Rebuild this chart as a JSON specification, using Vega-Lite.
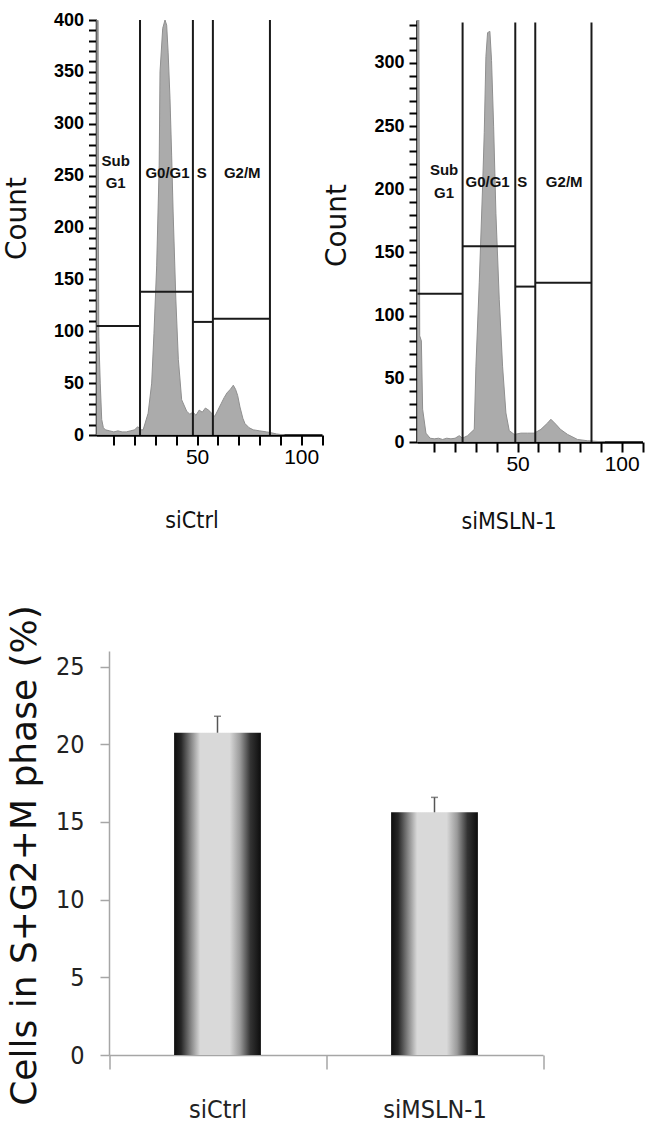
{
  "$schema": "https://vega.github.io/schema/vega-lite/v6.json",
  "autosize": {"type": "none"},
  "padding": {"left": 96.5, "top": 20, "right": 552.5, "bottom": 1113},
  "background": "white",
  "config": {"view": {"stroke": null}, "axis": {"grid": false, "labelOverlap": false, "labelFlush": false}},
  "datasets": {
    "histL": [
      {"x": 1.7, "y": 400}, {"x": 2.3, "y": 400}, {"x": 2.8, "y": 95}, {"x": 3.5, "y": 50}, {"x": 4.2, "y": 15}, {"x": 5, "y": 7}, {"x": 6, "y": 5}, {"x": 8, "y": 4}, {"x": 10, "y": 3}, {"x": 12, "y": 4}, {"x": 14, "y": 3}, {"x": 16, "y": 3}, {"x": 18, "y": 4}, {"x": 20, "y": 5}, {"x": 21.5, "y": 8}, {"x": 23, "y": 5},
      {"x": 24.1, "y": 5}, {"x": 26.5, "y": 21}, {"x": 28.2, "y": 50}, {"x": 29.3, "y": 98}, {"x": 30.6, "y": 163}, {"x": 31.8, "y": 260}, {"x": 32.2, "y": 350}, {"x": 33.5, "y": 392}, {"x": 34.6, "y": 400}, {"x": 35.4, "y": 395}, {"x": 36.1, "y": 369}, {"x": 37.0, "y": 324}, {"x": 37.8, "y": 269}, {"x": 38.5, "y": 215}, {"x": 39.8, "y": 131}, {"x": 41.0, "y": 73}, {"x": 42.6, "y": 34},
      {"x": 45, "y": 23}, {"x": 46.5, "y": 20}, {"x": 48, "y": 22}, {"x": 49.5, "y": 19}, {"x": 51, "y": 24}, {"x": 52.5, "y": 22}, {"x": 54, "y": 26}, {"x": 55.5, "y": 24}, {"x": 57, "y": 21}, {"x": 58.5, "y": 18}, {"x": 60, "y": 24}, {"x": 61.5, "y": 30}, {"x": 63, "y": 36}, {"x": 64.5, "y": 41}, {"x": 66, "y": 44}, {"x": 67.4, "y": 48}, {"x": 68.5, "y": 44}, {"x": 69.5, "y": 38}, {"x": 70.6, "y": 27}, {"x": 72, "y": 16}, {"x": 73, "y": 11}, {"x": 75, "y": 7}, {"x": 77, "y": 5}, {"x": 80, "y": 4}, {"x": 83.4, "y": 3}, {"x": 86, "y": 2}, {"x": 88.2, "y": 1}, {"x": 92, "y": 0}
    ],
    "histR": [
      {"x": 1.9, "y": 334}, {"x": 2.6, "y": 334}, {"x": 3.0, "y": 84}, {"x": 3.8, "y": 80}, {"x": 4.4, "y": 26}, {"x": 6, "y": 7}, {"x": 8, "y": 3}, {"x": 10, "y": 2.5}, {"x": 12, "y": 3}, {"x": 14, "y": 2}, {"x": 16, "y": 3}, {"x": 18, "y": 2.5}, {"x": 20, "y": 3}, {"x": 22, "y": 5}, {"x": 23.5, "y": 3},
      {"x": 26.0, "y": 5}, {"x": 29.2, "y": 10}, {"x": 30.0, "y": 60}, {"x": 31.6, "y": 126}, {"x": 33.2, "y": 202}, {"x": 34.0, "y": 245}, {"x": 34.8, "y": 305}, {"x": 35.6, "y": 324}, {"x": 36.7, "y": 325}, {"x": 37.5, "y": 302}, {"x": 38.5, "y": 250}, {"x": 39.6, "y": 181}, {"x": 41.2, "y": 113}, {"x": 42.8, "y": 60}, {"x": 44.4, "y": 23}, {"x": 46.0, "y": 9}, {"x": 48.4, "y": 6}, {"x": 51.6, "y": 7}, {"x": 54.8, "y": 7}, {"x": 58.0, "y": 7}, {"x": 61.2, "y": 10}, {"x": 64.4, "y": 15}, {"x": 66.0, "y": 18}, {"x": 68.4, "y": 14}, {"x": 70.6, "y": 10}, {"x": 74.0, "y": 6}, {"x": 78.8, "y": 2}, {"x": 83.6, "y": 1}, {"x": 92, "y": 0}
    ],
    "vgL": [{"x": 22.6, "y": 0, "y2": 400}, {"x": 48, "y": 0, "y2": 400}, {"x": 57.6, "y": 0, "y2": 400}, {"x": 85, "y": 0, "y2": 400}],
    "hgL": [{"x": 1.7, "x2": 22.6, "y": 105}, {"x": 22.6, "x2": 48, "y": 138}, {"x": 48, "x2": 57.6, "y": 109}, {"x": 57.6, "x2": 85, "y": 112}],
    "txtL": [{"x": 10.9, "y": 264, "label": "Sub"}, {"x": 10.9, "y": 243, "label": "G1"}, {"x": 35.8, "y": 253, "label": "G0/G1"}, {"x": 52.2, "y": 253, "label": "S"}, {"x": 71.7, "y": 253, "label": "G2/M"}],
    "vgR": [{"x": 23.6, "y": 0, "y2": 332}, {"x": 48.9, "y": 0, "y2": 332}, {"x": 58.5, "y": 0, "y2": 332}, {"x": 85.5, "y": 0, "y2": 332}],
    "hgR": [{"x": 1.9, "x2": 23.6, "y": 117.4}, {"x": 23.6, "x2": 48.9, "y": 155}, {"x": 48.9, "x2": 58.5, "y": 123}, {"x": 58.5, "x2": 85.5, "y": 126}],
    "txtR": [{"x": 14.7, "y": 215.6, "label": "Sub"}, {"x": 14.7, "y": 197, "label": "G1"}, {"x": 35.6, "y": 206, "label": "G0/G1"}, {"x": 52.2, "y": 206, "label": "S"}, {"x": 72.4, "y": 206, "label": "G2/M"}],
    "bars": [{"group": "siCtrl", "value": 20.74, "upper": 21.8}, {"group": "siMSLN-1", "value": 15.62, "upper": 16.58}]
  },
  "bounds": "flush",
  "spacing": 631,
  "vconcat": [
    {
      "bounds": "flush",
      "spacing": 94.5,
      "resolve": {"scale": {"x": "independent", "y": "independent"}, "axis": {"x": "independent", "y": "independent"}},
      "hconcat": [
        {
          "width": 225.5,
          "height": 415,
          "encoding": {
            "x": {"field": "x", "type": "quantitative", "scale": {"domain": [1.7, 110]},
              "axis": {"values": [10, 20, 30, 40, 50, 60, 70, 80, 90, 100, 110], "labelExpr": "datum.value == 50 || datum.value == 100 ? datum.label : ''", "labelFlush": false, "labelOverlap": false, "tickSize": 10, "tickWidth": 2, "tickColor": "black", "domainColor": "black", "domainWidth": 2.5, "labelFont": "Liberation Sans, Arial, sans-serif", "labelFontSize": 21, "labelColor": "black", "labelPadding": 1,
                "title": "siCtrl", "titleFont": "DejaVu Sans Condensed, Liberation Sans, sans-serif", "titleFontSize": 23, "titleFontWeight": "normal", "titleColor": "#111", "titleX": 95, "titleY": 85, "titleBaseline": "middle", "titleAlign": "center"}},
            "y": {"field": "y", "type": "quantitative", "scale": {"domain": [0, 400]},
              "axis": {"values": [0, 10, 20, 30, 40, 50, 60, 70, 80, 90, 100, 110, 120, 130, 140, 150, 160, 170, 180, 190, 200, 210, 220, 230, 240, 250, 260, 270, 280, 290, 300, 310, 320, 330, 340, 350, 360, 370, 380, 390, 400], "labelExpr": "datum.value % 50 == 0 ? datum.label : ''", "labelOverlap": false, "labelFlush": false, "tickSize": 8, "tickWidth": 2, "tickColor": "black", "domainColor": "black", "domainWidth": 2.5, "labelFont": "Liberation Sans, Arial, sans-serif", "labelFontWeight": "bold", "labelFontSize": 18, "labelColor": "black", "labelPadding": 5,
                "title": "Count", "titleFont": "DejaVu Sans", "titleFontSize": 28, "titleFontWeight": "normal", "titleColor": "#111", "titleX": -79.5, "titleY": 198, "titleBaseline": "middle", "titleAlign": "center", "titleAngle": -90}}
          },
          "layer": [
            {
              "data": {"name": "histL"},
              "mark": {"type": "area", "color": "#ababab", "stroke": "#8f8f8f", "strokeWidth": 1, "clip": true}
            },
            {
              "data": {"name": "vgL"},
              "mark": {"type": "rule", "color": "#1a1a1a", "strokeWidth": 2},
              "encoding": {"y2": {"field": "y2"}}
            },
            {
              "data": {"name": "hgL"},
              "mark": {"type": "rule", "color": "#1a1a1a", "strokeWidth": 2},
              "encoding": {"x2": {"field": "x2"}}
            },
            {
              "data": {"name": "txtL"},
              "mark": {"type": "text", "font": "Liberation Sans, Arial, sans-serif", "fontWeight": "bold", "fontSize": 15, "color": "#111", "baseline": "middle", "align": "center"},
              "encoding": {"text": {"field": "label"}}
            }
          ]
        },
        {
          "width": 225.5,
          "height": 422,
          "encoding": {
            "x": {"field": "x", "type": "quantitative", "scale": {"domain": [1.7, 110]},
              "axis": {"values": [10, 20, 30, 40, 50, 60, 70, 80, 90, 100, 110], "labelExpr": "datum.value == 50 || datum.value == 100 ? datum.label : ''", "labelFlush": false, "labelOverlap": false, "tickSize": 10, "tickWidth": 2, "tickColor": "black", "domainColor": "black", "domainWidth": 2.5, "labelFont": "Liberation Sans, Arial, sans-serif", "labelFontSize": 21, "labelColor": "black", "labelPadding": 1,
                "title": "siMSLN-1", "titleFont": "DejaVu Sans Condensed, Liberation Sans, sans-serif", "titleFontSize": 23, "titleFontWeight": "normal", "titleColor": "#111", "titleX": 91.5, "titleY": 79, "titleBaseline": "middle", "titleAlign": "center"}},
            "y": {"field": "y", "type": "quantitative", "scale": {"domain": [0, 334]},
              "axis": {"values": [0, 10, 20, 30, 40, 50, 60, 70, 80, 90, 100, 110, 120, 130, 140, 150, 160, 170, 180, 190, 200, 210, 220, 230, 240, 250, 260, 270, 280, 290, 300, 310, 320, 330], "labelExpr": "datum.value % 50 == 0 ? datum.label : ''", "labelOverlap": false, "labelFlush": false, "tickSize": 8, "tickWidth": 2, "tickColor": "black", "domainColor": "black", "domainWidth": 2.5, "labelFont": "Liberation Sans, Arial, sans-serif", "labelFontWeight": "bold", "labelFontSize": 18, "labelColor": "black", "labelPadding": 5,
                "title": "Count", "titleFont": "DejaVu Sans", "titleFontSize": 28, "titleFontWeight": "normal", "titleColor": "#111", "titleX": -79.5, "titleY": 205, "titleBaseline": "middle", "titleAlign": "center", "titleAngle": -90}}
          },
          "layer": [
            {
              "data": {"name": "histR"},
              "mark": {"type": "area", "color": "#ababab", "stroke": "#8f8f8f", "strokeWidth": 1, "clip": true}
            },
            {
              "data": {"name": "vgR"},
              "mark": {"type": "rule", "color": "#1a1a1a", "strokeWidth": 2},
              "encoding": {"y2": {"field": "y2"}}
            },
            {
              "data": {"name": "hgR"},
              "mark": {"type": "rule", "color": "#1a1a1a", "strokeWidth": 2},
              "encoding": {"x2": {"field": "x2"}}
            },
            {
              "data": {"name": "txtR"},
              "mark": {"type": "text", "font": "Liberation Sans, Arial, sans-serif", "fontWeight": "bold", "fontSize": 15, "color": "#111", "baseline": "middle", "align": "center"},
              "encoding": {"text": {"field": "label"}}
            }
          ]
        }
      ]
    },
    {
      "width": 446.5,
      "height": 404,
      "data": {"name": "bars"},
      "encoding": {
        "x": {"field": "group", "type": "nominal", "sort": null,
          "scale": {"range": [12.5, 446.5], "paddingInner": 0, "paddingOuter": 0},
          "axis": {"title": null, "labelAngle": 0, "tickBand": "extent", "domainColor": "#a6a6a6", "domainWidth": 1.5, "tickColor": "#a6a6a6", "tickWidth": 1.5, "tickSize": 14, "labelFont": "DejaVu Sans Condensed, Liberation Sans, sans-serif", "labelFontSize": 25, "labelColor": "#222", "labelPadding": 28}}
      },
      "layer": [
        {
          "mark": {"type": "bar", "width": {"band": 0.4},
            "color": {"gradient": "linear", "x1": 0, "x2": 1, "y1": 0, "y2": 0,
              "stops": [
                {"offset": 0, "color": "#0d0d0d"},
                {"offset": 0.08, "color": "#262626"},
                {"offset": 0.2, "color": "#8a8a8a"},
                {"offset": 0.3, "color": "#d9d9d9"},
                {"offset": 0.64, "color": "#d9d9d9"},
                {"offset": 0.76, "color": "#9a9a9a"},
                {"offset": 0.88, "color": "#333333"},
                {"offset": 1, "color": "#0d0d0d"}
              ]}},
          "encoding": {
            "y": {"field": "value", "type": "quantitative", "scale": {"domain": [0, 25]},
              "axis": {"values": [0, 5, 10, 15, 20, 25], "offset": -12.5, "domainColor": "#a6a6a6", "domainWidth": 1.5, "tickColor": "#a6a6a6", "tickWidth": 1.5, "tickSize": 9, "labelFont": "DejaVu Sans Condensed, Liberation Sans, sans-serif", "labelFontSize": 25, "labelColor": "#222", "labelPadding": 16,
                "title": "Cells in S+G2+M phase (%)", "titleFont": "DejaVu Sans", "titleFontSize": 36, "titleFontWeight": "normal", "titleColor": "#111", "titleX": -85, "titleY": 204, "titleBaseline": "middle", "titleAlign": "center", "titleAngle": -90}}
          }
        },
        {
          "mark": {"type": "rule", "color": "#555555", "strokeWidth": 1.5},
          "encoding": {"y": {"field": "value", "type": "quantitative"}, "y2": {"field": "upper"}}
        },
        {
          "mark": {"type": "tick", "color": "#555555", "thickness": 1.5, "size": 7},
          "encoding": {"y": {"field": "upper", "type": "quantitative"}}
        }
      ]
    }
  ]
}
